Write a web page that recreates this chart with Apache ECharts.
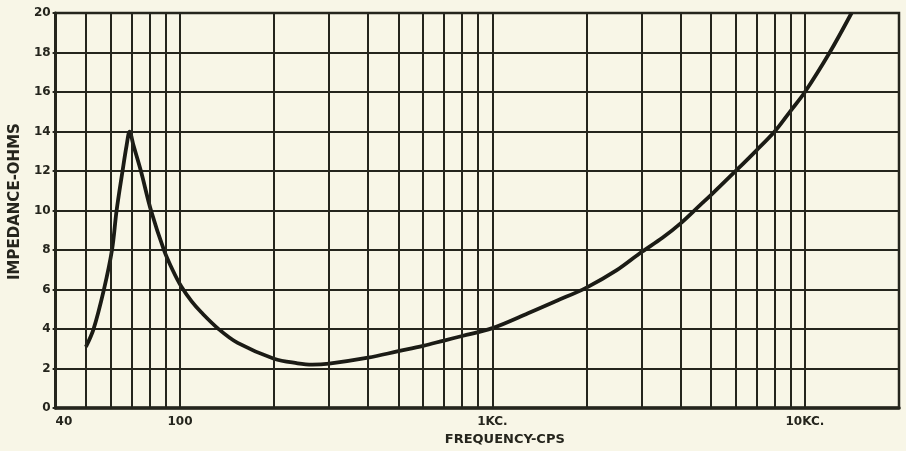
<!DOCTYPE html>
<html>
<head>
<meta charset="utf-8">
<script src="https://cdn.jsdelivr.net/npm/echarts@6/dist/echarts.min.js"></script>
<style>
  html, body { margin: 0; padding: 0; background: #f8f6e7; }
  #chart { width: 906px; height: 451px; }
</style>
</head>
<body>
<div id="chart"></div>
<script>
// Loudspeaker impedance versus frequency (log frequency scale)
const frequency = [50, 52.9, 57.1, 60.6, 62.7, 65.5, 67.5, 69, 71, 75, 80.8, 88.9, 95, 101, 109, 117, 133, 153, 200, 238, 265, 300, 400, 500, 600, 700, 800, 1000, 1300, 1600, 2000, 2500, 3000, 3500, 4000, 4600, 5000, 6000, 7000, 8000, 9000, 10000, 12000, 14100];
const impedance = [3.1, 4.0, 6.0, 8.0, 10.0, 12.0, 13.3, 14.0, 13.3, 12.0, 10.0, 8.0, 6.95, 6.15, 5.4, 4.85, 4.0, 3.3, 2.5, 2.27, 2.2, 2.25, 2.55, 2.88, 3.15, 3.42, 3.65, 4.05, 4.8, 5.42, 6.1, 6.98, 7.9, 8.62, 9.35, 10.25, 10.78, 12.0, 13.05, 14.0, 15.05, 16.0, 18.0, 20.0];

// Vertical rulings of the log paper
const gridFrequencies = [50, 60, 70, 80, 90, 100, 200, 300, 400, 500, 600, 700, 800, 900, 1000, 2000, 3000, 4000, 5000, 6000, 7000, 8000, 9000, 10000];
const xTickLabels = { 40: '40', 100: '100', 1000: '1KC.', 10000: '10KC.' };

const ink = '#25251d';
const paper = '#f8f6e7';
const font = 'DejaVu Sans';

const chart = echarts.init(document.getElementById('chart'));
chart.setOption({
  backgroundColor: paper,
  animation: false,
  grid: {
    left: 54, right: 7, top: 13, bottom: 36,
    show: true, backgroundColor: paper,
    borderColor: ink, borderWidth: 2.5
  },
  xAxis: {
    type: 'log', logBase: 10, min: 40, max: 20000,
    name: 'FREQUENCY-CPS', nameLocation: 'middle', nameGap: 24,
    nameTextStyle: { fontFamily: font, fontWeight: 'bold', fontSize: 13, color: ink, padding: [0, 0, 0, 55] },
    axisLine: { show: true, lineStyle: { color: ink, width: 3.5 } },
    axisTick: { show: false },
    splitLine: { show: false },
    axisLabel: {
      fontFamily: font, fontWeight: 'bold', fontSize: 12, color: ink, margin: 8,
      alignMinLabel: 'left',
      formatter: function (v) {
        const r = Math.round(v);
        return xTickLabels[r] !== undefined ? xTickLabels[r] : '';
      }
    }
  },
  yAxis: {
    type: 'value', min: 0, max: 20, interval: 2,
    name: 'IMPEDANCE-OHMS', nameLocation: 'middle', nameGap: 30,
    nameTextStyle: { fontFamily: font, fontWeight: 'bold', fontSize: 15, color: ink, padding: [0, 0, 0, 18] },
    axisLine: { show: true, lineStyle: { color: ink, width: 3 } },
    axisTick: { show: true, length: 3, lineStyle: { color: ink, width: 2 } },
    splitLine: { show: true, lineStyle: { color: ink, width: 2 } },
    axisLabel: { fontFamily: font, fontWeight: 'bold', fontSize: 12, color: ink, margin: 5 }
  },
  series: [
    {
      type: 'line',
      data: [],
      z: 1,
      silent: true,
      markLine: {
        silent: true,
        symbol: ['none', 'none'],
        label: { show: false },
        lineStyle: { color: ink, width: 2, type: 'solid' },
        data: gridFrequencies.map(f => ({ xAxis: f }))
      }
    },
    {
      type: 'line',
      z: 3,
      data: frequency.map((f, i) => [f, impedance[i]]),
      showSymbol: false,
      smooth: 0.35,
      clip: true,
      lineStyle: { color: '#1b1b15', width: 3.8 }
    }
  ]
});
</script>
</body>
</html>
